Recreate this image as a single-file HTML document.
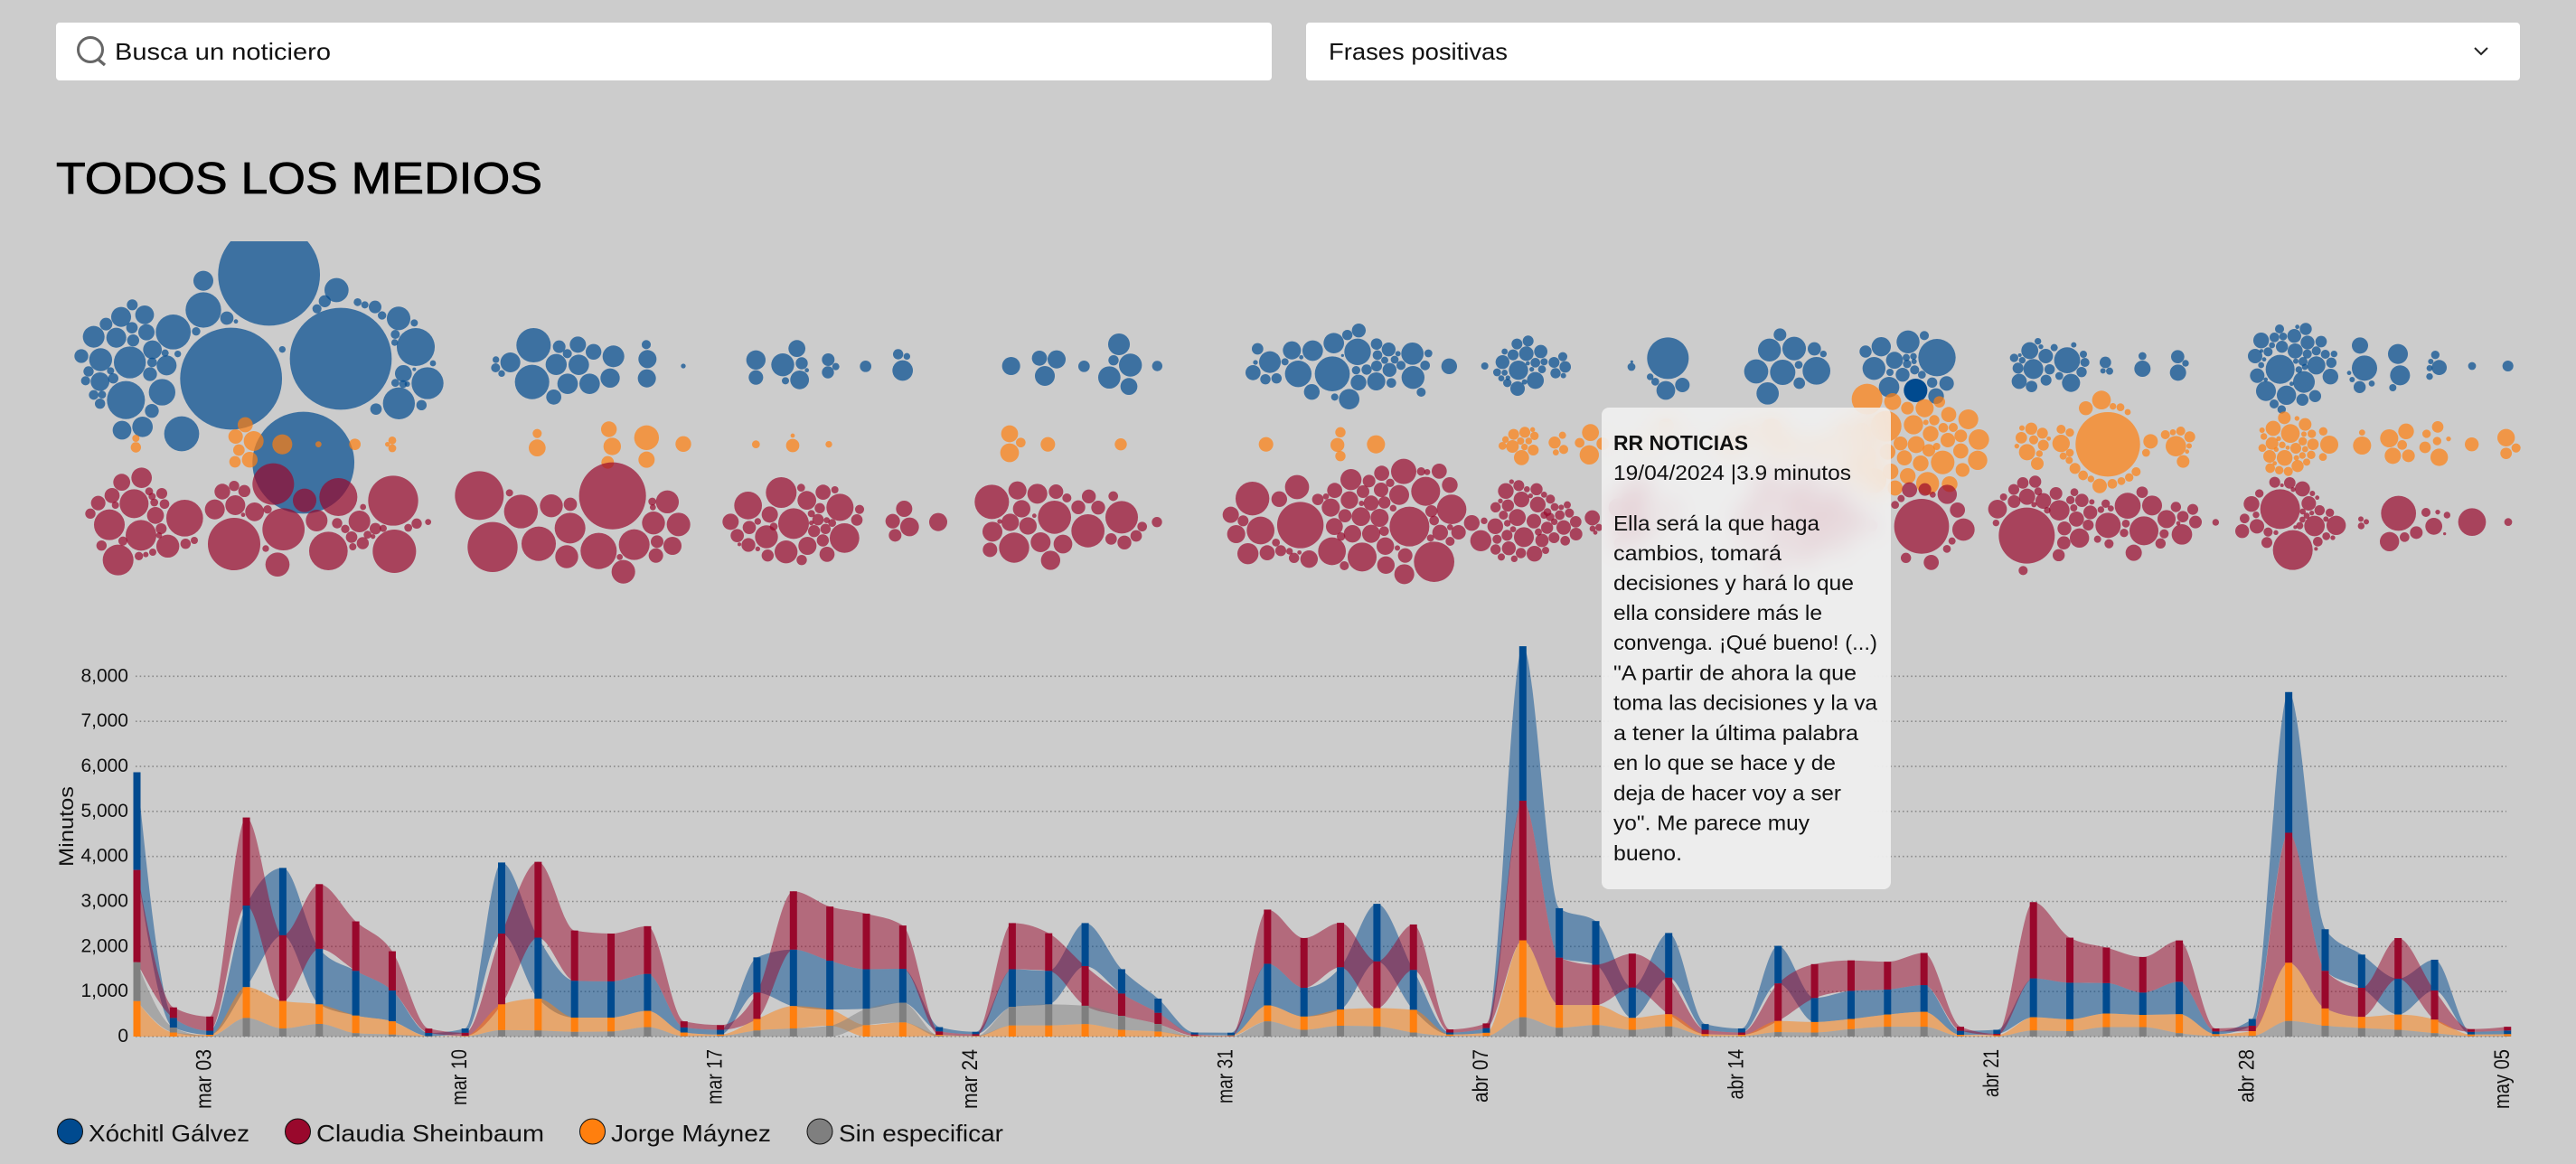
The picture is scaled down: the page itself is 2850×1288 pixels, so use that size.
<!DOCTYPE html>
<html lang="es">
<head>
<meta charset="utf-8">
<title>Todos los medios</title>
<style>
html,body{margin:0;padding:0;width:2850px;height:1288px;overflow:hidden;background:#cccccc;font-family:"Liberation Sans","DejaVu Sans",sans-serif;color:#111}
svg{display:block}
#page-art{position:absolute;left:0;top:0}
#tooltip{position:absolute;left:1772px;top:451px;width:320px;height:533px;border-radius:8px;background:rgba(245,245,245,.8);-webkit-backdrop-filter:blur(13px);backdrop-filter:blur(13px);overflow:hidden}
text{font-family:"Liberation Sans","DejaVu Sans",sans-serif;fill:#111}
</style>
</head>
<body>
<svg id="page-art" width="2850" height="1288" viewBox="0 0 2850 1288" xmlns="http://www.w3.org/2000/svg">
  <defs><clipPath id="swarm-clip"><rect x="0" y="267" width="2850" height="440"/></clipPath></defs>

  <g>
    <rect x="62" y="25" width="1345" height="64" rx="4" fill="#fff"/>
    <g fill="none" stroke="#666" stroke-width="3">
      <circle cx="100" cy="55" r="13.5"/>
      <line x1="109" y1="66" x2="116" y2="72" stroke-width="3.4"/>
    </g>
    <text x="127" y="66" font-size="26" textLength="239" lengthAdjust="spacingAndGlyphs">Busca un noticiero</text>
  </g>

  <g>
    <rect x="1445" y="25" width="1343" height="64" rx="4" fill="#fff"/>
    <text x="1470" y="66" font-size="26" textLength="198" lengthAdjust="spacingAndGlyphs">Frases positivas</text>
    <path d="M2738 53l7 7 7-7" fill="none" stroke="#222" stroke-width="2"/>
  </g>

  <text x="62" y="214" font-size="49" textLength="538" lengthAdjust="spacingAndGlyphs" style="fill:#000;stroke:#000;stroke-width:.8">TODOS LOS MEDIOS</text>

  <g id="swarm-layer" clip-path="url(#swarm-clip)"></g>
  <g id="grid-layer"></g>
  <g id="y-axis"></g>
  <g id="area-layer"></g>
  <g id="bar-layer"></g>
  <g id="x-axis"></g>
  <text transform="translate(81 959) rotate(-90)" font-size="22" textLength="89" lengthAdjust="spacingAndGlyphs">Minutos</text>

  <g>
    <g>
      <circle cx="77.5" cy="1252" r="14" fill="#004a8f" stroke="#111" stroke-width="1"/>
      <text x="98" y="1263" font-size="26" textLength="178" lengthAdjust="spacingAndGlyphs">Xóchitl Gálvez</text>
    </g>
    <g>
      <circle cx="329.5" cy="1252" r="14" fill="#99082c" stroke="#111" stroke-width="1"/>
      <text x="350" y="1263" font-size="26" textLength="252" lengthAdjust="spacingAndGlyphs">Claudia Sheinbaum</text>
    </g>
    <g>
      <circle cx="655.5" cy="1252" r="14" fill="#ff7f0e" stroke="#111" stroke-width="1"/>
      <text x="676" y="1263" font-size="26" textLength="177" lengthAdjust="spacingAndGlyphs">Jorge Máynez</text>
    </g>
    <g>
      <circle cx="907" cy="1252" r="14" fill="#7f7f7f" stroke="#111" stroke-width="1"/>
      <text x="928" y="1263" font-size="26" textLength="182" lengthAdjust="spacingAndGlyphs">Sin especificar</text>
    </g>
  </g>
</svg>

<div id="tooltip">
  <svg width="320" height="533" viewBox="1772 451 320 533" xmlns="http://www.w3.org/2000/svg">
    <text x="1785" y="498" font-size="23" font-weight="bold" textLength="149" lengthAdjust="spacingAndGlyphs">RR NOTICIAS</text>
    <text x="1785" y="531" font-size="23" textLength="263" lengthAdjust="spacingAndGlyphs">19/04/2024 |3.9 minutos</text>
    <g font-size="23">
      <text x="1785" y="587" textLength="228" lengthAdjust="spacingAndGlyphs">Ella será la que haga</text>
      <text x="1785" y="620" textLength="186" lengthAdjust="spacingAndGlyphs">cambios, tomará</text>
      <text x="1785" y="653" textLength="266" lengthAdjust="spacingAndGlyphs">decisiones y hará lo que</text>
      <text x="1785" y="686" textLength="231" lengthAdjust="spacingAndGlyphs">ella considere más le</text>
      <text x="1785" y="719" textLength="292" lengthAdjust="spacingAndGlyphs">convenga. ¡Qué bueno! (...)</text>
      <text x="1785" y="752.5" textLength="269" lengthAdjust="spacingAndGlyphs">"A partir de ahora la que</text>
      <text x="1785" y="785.5" textLength="292" lengthAdjust="spacingAndGlyphs">toma las decisiones y la va</text>
      <text x="1785" y="819" textLength="271" lengthAdjust="spacingAndGlyphs">a tener la última palabra</text>
      <text x="1785" y="852" textLength="246" lengthAdjust="spacingAndGlyphs">en lo que se hace y de</text>
      <text x="1785" y="885.5" textLength="252" lengthAdjust="spacingAndGlyphs">deja de hacer voy a ser</text>
      <text x="1785" y="918.5" textLength="217" lengthAdjust="spacingAndGlyphs">yo". Me parece muy</text>
      <text x="1785" y="952" textLength="76" lengthAdjust="spacingAndGlyphs">bueno.</text>
    </g>
  </svg>
</div>

<script>
/* ---------- daily minutes per candidate, 1 mar to 5 may ---------- */
const xgMinutes=[2170,215,90,1812,1495,1235,994,685,70,97,1578,1355,819,805,821,113,105,782,1255,1084,879,752,97,52,834,745,955,541,316,45,60,925,639,939,1278,887,45,105,3431,1098,970,676,992,128,90,835,534,624,556,594,90,90,864,812,677,496,722,60,151,3124,924,737,797,684,60,82];
const csMinutes=[2050,233,314,1955,1460,1435,1098,872,97,68,1572,1683,1115,1061,1059,135,105,586,1294,1203,1234,962,75,38,1024,835,881,496,248,30,10,1203,1105,985,1037,1008,68,105,3100,1052,895,752,812,97,52,834,752,677,617,714,90,30,1692,1000,789,790,917,67,120,2887,835,647,902,647,60,83];
const jmMinutes=[790,90,30,684,610,435,391,293,5,10,572,707,316,308,361,80,30,256,497,360,255,316,25,10,248,248,278,150,113,10,10,354,294,362,407,504,30,70,1708,505,445,264,271,40,30,248,233,226,271,331,30,25,294,264,301,271,421,40,105,1293,384,248,339,301,35,43];
const seMinutes=[860,110,10,414,180,280,75,45,5,5,143,135,105,113,210,10,15,135,180,240,362,436,13,5,414,467,406,309,165,5,5,338,150,240,225,90,15,13,429,195,255,150,225,13,8,98,90,165,218,218,8,5,135,120,210,210,75,13,15,346,240,188,150,75,10,10];
const dayTickIndex=[2,9,16,23,30,37,44,51,58,65];
const dayTickLabels=["mar 03","mar 10","mar 17","mar 24","mar 31","abr 07","abr 14","abr 21","abr 28","may 05"];
const dayTickLengths=[66,62,61,66,60,59,55.5,53,59,66];
const yTickValues=[0,1000,2000,3000,4000,5000,6000,7000,8000];

/* ---------- individual broadcast fragments: [time slot, lane offset, minutes] ---------- */
const xgPackA=[[713,-303,75.8],[587,42,75.8],[951,-24,75.8],[827,321,75.8],[495,-283,2.75],[495,-186,9.03],[573,-159,1.18],[603,-148,.1],[471,-115,.45],[395,-113,8.72],[757,-55,.27],[937,-252,4.08],[898,-215,.97],[872,-190,.53],[1007,-212,.39],[1031,-203,.32],[1065,-196,1.07],[1088,-168,.45],[1143,-158,3.88],[1195,-143,.32],[1132,-105,.53],[1130,-78,.27],[1200,-63,10.32],[1257,-9,.22],[1159,25,1.96],[1195,11,.07],[1239,57,7.26],[1132,56,.39],[1158,60,.39],[1172,60,.17],[1144,124,7.26],[1219,130,.69],[1068,143,.87],[259,-203,.78],[222,-163,2.75],[300,-170,2.42],[172,-139,1.07],[131,-97,3.29],[206,-94,2.75],[258,-127,.87],[306,-112,1.81],[262,-85,.97],[326,-54,2.42],[251,-12,7.26],[154,-21,3.68],[90,-33,1.3],[368,-43,.32],[410,-40,.27],[325,-12,.6],[373,-2,2.75],[114,18,.69],[187,16,.32],[196,41,.69],[318,27,1.3],[152,52,2.42],[104,49,.53],[358,87,4.96],[238,113,10.32],[131,96,.6],[159,95,.39],[152,125,.69],[324,149,1.3],[293,202,2.92],[225,213,2.42],[423,225,8.72]];
const jmPackA=[[271,-20,.32],[271,10,.69],[634,-65,1.55],[602,-26,1.42],[662,-11,2.75],[613,19,.87],[600,58,.87],[649,51,1.68],[757,0,2.75],[877,0,.22],[998,0,.87],[1122,-13,.39],[1122,13,.39],[1106,0,.13]];
const csPackA=[[290,-147,2.92],[224,-132,1.96],[192,-88,1.55],[315,-102,.39],[357,-95,.78],[325,-85,.32],[146,-63,1.42],[265,-61,5.93],[203,-56,.32],[332,-65,.39],[366,-60,.6],[120,-28,.69],[183,9,6.71],[336,-22,1.96],[433,-13,9.66],[288,44,6.71],[355,22,.78],[348,44,.22],[228,63,.53],[157,78,.69],[377,80,3.68],[212,126,6.71],[281,113,.45],[304,108,.17],[327,100,.32],[436,72,.69],[465,61,.32],[558,-101,1.68],[597,-120,.69],[631,-103,.97],[601,-56,2.75],[533,-42,2.75],[665,-34,2.42],[627,-24,.1],[708,-42,.45],[727,-126,12.41],[831,-72,3.88],[943,-83,10.32],[1125,-71,18.05],[761,24,12.78],[597,73,19.85],[702,88,.27],[741,141,4.08],[871,-5,3.29],[1025,-50,.22],[939,4,.69],[1013,-2,3.29],[966,23,.45],[987,50,.87],[1066,22,.87],[1092,21,.32],[1040,42,.39],[1058,48,.13],[1024,70,.97],[991,82,.32],[1175,19,.39],[1203,5,.69],[1241,0,.22],[910,96,10.65],[1129,97,13.53]];

const xgPackB=[[241,-69,8.42],[236,53,8.42],[164,-12,2.75],[116,-21,.27],[115,6,.53],[135,25,.27],[326,-64,1.07],[388,-71,1.81],[353,-41,.53],[316,-5,3.1],[391,-4,2.92],[440,-47,1.68],[506,-32,3.29],[495,40,2.58],[354,59,2.92],[427,59,2.92],[308,103,1.55],[615,-71,.53],[619,-23,2.26],[617,41,2.26],[738,0,.13],[979,-20,2.58],[979,38,1.42],[1115,-58,1.96],[1068,-4,3.68],[1131,-9,.97],[1148,14,.1],[1124,46,2.42],[1077,49,.32],[1219,-21,1.07],[1244,2,.32],[1218,21,.97],[1343,1,.87]];
const jmPackB=[[253,-36,.53],[253,12,1.96],[491,-50,1.68],[502,7,2.1],[487,60,1.07],[616,-22,4.3],[616,51,1.81],[738,-1,1.68],[979,0,.39],[1101,-29,.1],[1101,4,1.18],[1221,0,.27]];
const csPackB=[[61,-88,17.18],[161,-97,.32],[199,-35,8.12],[105,83,18.05],[258,72,8.42],[300,-54,3.68],[363,-59,1.18],[362,20,6.71],[503,-87,32.5],[351,115,3.68],[457,96,9.35],[575,75,6.71],[539,165,3.88],[527,116,.22],[635,-68,.39],[637,-49,.22],[685,-67,3.68],[639,3,3.68],[722,8,3.88],[651,65,1.07],[702,79,2.26],[647,111,1.42],[953,-55,5.44],[1063,-98,6.71],[1129,-114,.39],[1148,-72,2.42],[1202,-99,1.55],[1241,-107,.32],[1191,-46,.69],[1258,-49,5.2],[1323,-42,.53],[1314,-7,.87],[1273,53,6.19],[1025,-25,1.81],[1163,-28,.32],[1185,-8,.87],[1214,-6,.22],[1232,3,.39],[1163,3,.13],[895,-1,1.81],[985,-2,.27],[1104,5,6.71],[957,18,1.18],[1038,15,.39],[1172,30,.97],[1210,23,.69],[917,45,1.18],[1014,49,3.68],[1201,61,.97],[954,76,1.3],[924,74,.07],[985,89,.13],[1150,79,2.26],[1018,111,.97],[1079,99,3.68],[1131,126,.69],[1215,107,1.55]];

const xgPackC=[[101,-39,.69],[130,-32,.27],[116,15,2.92],[476,0,2.26],[570,-26,1.55],[627,-22,2.26],[588,33,2.75],[718,1,.87],[834,-72,3.29],[816,-19,.69],[872,-3,3.68],[802,38,3.48],[867,68,1.96],[961,0,.69]];
const jmPackC=[[471,-35,1.96],[508,-6,.6],[471,28,2.42],[598,0,1.42],[840,0,.97]];
const csPackC=[[121,-44,1.81],[83,-3,1.42],[139,16,2.42],[91,44,1.07],[234,0,2.26],[412,-67,8.42],[497,-105,2.26],[563,-94,2.75],[625,-101,1.42],[661,-80,.53],[511,-44,2.1],[553,-21,.1],[438,-2,.13],[473,1,2.1],[532,13,2.1],[620,-16,7.83],[734,-85,1.3],[699,-49,1.3],[765,-48,1.3],[815,-86,.6],[843,-16,7.54],[731,29,7.83],[414,32,2.75],[486,85,6.45],[574,67,2.75],[648,73,2.42],[406,92,1.42],[607,127,2.58],[808,56,.87],[852,68,1.3],[891,46,.87],[911,15,.6],[960,0,.69]];

const xgPackD=[[184,-57,.87],[225,-13,3.29],[177,-12,.13],[169,22,1.55],[210,44,.69],[247,41,.69],[275,-14,.32],[298,-52,2.26],[329,-29,.1],[319,26,4.96],[367,-51,2.92],[437,-76,2.92],[432,26,8.72],[482,-103,.69],[520,-118,1.3],[516,-47,4.96],[466,-35,.04],[579,-73,.87],[582,-36,.6],[619,-55,1.3],[650,-41,.17],[606,-19,.32],[639,-21,.39],[579,0,.78],[511,14,.45],[546,12,.69],[622,13,1.3],[660,-2,.53],[698,-41,3.48],[751,-42,.39],[740,-2,.6],[700,38,3.68],[519,55,1.68],[578,51,2.26],[628,56,.6],[364,86,1.68],[440,103,.32],[488,110,2.92],[727,87,.53],[820,1,1.68],[938,0,.32],[1045,-73,.78],[1082,-83,.78],[1004,-48,.22],[1032,-37,.78],[1076,-41,1.42],[1124,-48,1.18],[997,-13,1.3],[1106,-11,.6],[1081,-9,.1],[1135,-14,.32],[1050,14,2.58],[1168,-12,.78],[1197,-31,.53],[1205,3,.87],[1094,11,.13],[1128,11,.39],[979,21,.39],[1004,22,.22],[993,41,.22],[1015,39,.13],[1013,56,.45],[1070,53,.17],[1106,48,1.96],[1047,75,1.42],[1173,24,.69],[1199,32,.17]];
const jmPackD=[[212,0,1.42],[459,-40,.69],[449,2,1.3],[459,39,.69],[577,0,2.26],[1034,-33,.78],[1071,-40,.78],[1097,-49,.13],[1103,-28,.45],[1007,-16,.27],[1057,-11,.32],[1084,-11,.27],[1030,7,1.07],[997,5,.39],[1070,9,.27],[1099,19,.78],[1060,44,1.55],[1170,-6,.97],[1196,-30,.32],[1200,17,.53],[1174,27,.22],[1253,-5,.6],[1289,-39,1.96],[1285,35,2.58],[1330,-2,1.07]];
const csPackD=[[167,-78,8.12],[315,-116,4.08],[256,-76,1.68],[95,-24,1.81],[136,-4,.78],[194,28,5.44],[326,10,15.5],[113,40,2.26],[152,105,3.1],[216,102,1.55],[245,68,.39],[261,95,.78],[290,97,.27],[305,119,.69],[323,101,.1],[355,123,2.1],[431,97,5.44],[472,145,.53],[384,-75,.87],[411,-85,.22],[440,-105,1.55],[494,-141,3.1],[427,-48,2.26],[489,-73,2.1],[554,-136,1.07],[596,-162,1.55],[669,-168,4.51],[727,-168,.45],[747,-166,.22],[787,-169,1.55],[624,-130,.45],[534,-101,1.07],[594,-107,1.42],[654,-90,2.75],[742,-102,5.93],[822,-123,1.68],[474,-21,1.18],[527,-18,2.42],[561,-63,1.55],[605,-65,.97],[529,-62,.17],[589,-14,2.26],[634,-46,.27],[761,-36,.97],[828,-42,6.19],[688,15,11.34],[770,-5,.6],[439,15,1.96],[499,39,2.1],[561,39,2.26],[604,30,.6],[461,48,.45],[608,80,2.1],[531,116,5.93],[648,86,.17],[674,111,1.42],[610,143,2.1],[671,173,2.75],[770,132,11.69],[790,35,1.68],[758,53,.32],[823,17,.22],[851,34,1.42],[823,64,.53],[895,3,1.68],[936,-4,.27],[925,62,3.1],[973,14,1.68],[1008,-103,1.68],[1051,-121,.78],[1027,-134,.13],[1078,-109,.22],[1110,-109,.97],[1135,-91,.22],[1156,-76,.53],[990,-70,.13],[1060,-75,1.68],[1015,-55,.97],[974,-49,.69],[1114,-58,1.68],[1090,-87,.13],[1170,-50,.39],[1192,-49,.17],[1212,-57,.32],[1146,-33,.39],[1187,-23,.6],[1219,-30,.53],[1000,-23,.53],[1046,-15,1.96],[1101,-3,1.42],[1135,-23,.32],[1155,-17,.45],[1169,-1,.27],[1240,-1,.87],[1145,19,.97],[1200,18,1.42],[1068,50,2.75],[1032,24,.22],[1013,4,.27],[979,57,.53],[1012,44,.78],[1116,33,.32],[1128,61,1.18],[1168,52,.78],[1241,40,1.07],[1205,62,.6],[974,91,.69],[1018,87,1.3],[1058,103,.69],[1103,105,1.68],[1140,94,.32],[993,116,.32],[1036,122,.27],[1295,-14,1.55],[1296,22,.22],[1305,35,.1],[1317,18,.32]];

const xgPackE=[[75,3,.39],[76,-14,.04],[196,-26,12.41],[137,36,.27],[154,52,.39],[189,81,2.42],[244,63,1.42],[568,-104,1.07],[533,-53,3.68],[615,-58,3.88],[682,-57,1.18],[712,-40,.27],[489,18,4.08],[577,21,4.51],[630,-4,.39],[689,16,5.44],[632,57,.87],[527,91,3.48],[852,-48,.97],[904,-64,2.58],[993,-80,3.68],[1047,-101,.53],[1089,-28,9.99],[880,8,3.68],[948,-19,1.96],[987,-28,.32],[1011,-32,.27],[990,-7,.45],[1013,-15,.17],[1015,13,.53],[933,21,.32],[975,29,1.3],[1039,29,.39],[1073,55,.69],[1121,58,1.42],[930,70,2.92],[1086,100,1.68]];
const jmPackE=[[857,-150,6.71],[942,-142,1.96],[991,-120,1.07],[1048,-120,2.26],[1097,-141,.87],[1128,-99,1.55],[1193,-83,2.75],[920,-60,6.71],[1011,-65,2.58],[1052,-73,.17],[1080,-80,.69],[1110,-55,.6],[1143,-56,.53],[1068,-35,1.68],[1168,-28,1.07],[1125,-14,1.42],[1228,-16,2.92],[968,-3,1.3],[1020,1,1.96],[1062,20,1.07],[1088,7,.32],[1168,22,1.55],[981,45,1.55],[1035,63,1.68],[1108,60,3.88],[1224,53,2.58],[1174,85,1.3],[935,90,1.68],[992,105,1.68],[1058,130,3.68],[1131,132,1.68],[950,145,1.55],[925,25,1.68],[190,-60,1.68],[130,0,1.07],[260,-20,.6],[400,0,2.42],[540,-50,3.29],[600,10,2.42],[680,10,1.68],[840,-40,2.42],[850,40,3.29],[880,120,4.3],[530,30,1.07],[450,-40,1.68],[730,20,1.68],[780,-40,2.1],[800,80,2.42]];
const csPackE=[[998,-107,1.55],[1049,-108,1.07],[1075,-91,.22],[1123,-92,2.58],[970,-78,.32],[950,-57,.39],[1157,-40,1.55],[1038,14,21.75],[1177,25,3.48],[1139,63,.32],[1122,89,.39],[986,119,.69],[1070,134,1.55],[85,-58,5.44],[60,22,3.29],[200,-38,1.68],[530,-118,4.3],[620,-68,5.44],[700,-18,6.71],[800,-8,4.3],[560,72,2.42],[640,102,2.42],[450,-18,1.68],[870,12,1.07],[540,152,1.68],[500,-38,3.29],[590,12,3.29],[680,62,3.29],[750,-78,3.29],[660,-128,2.42],[460,52,1.68],[760,62,2.42],[30,-48,2.42],[120,22,2.1],[40,72,1.3],[100,-118,2.42]];
const xgHighlighted=[1018,81,3.9];

const xgPackF=[[-5,-27,.45],[8,7,.78],[12,51,1.55],[22,-19,.27],[14,-36,.07],[74,-82,.27],[84,-64,.13],[47,-51,1.96],[128,-61,.32],[100,-33,1.42],[59,10,2.75],[113,11,.69],[171,-19,4.74],[193,-70,.17],[225,-39,.32],[230,-12,.53],[219,20,.69],[101,47,.78],[53,68,.87],[145,33,.39],[184,56,2.26],[298,-12,.87],[290,16,.17],[312,17,.32],[421,-33,.39],[421,9,1.81],[538,-31,1.18],[564,-9,.27],[539,22,1.81],[876,-123,.53],[963,-123,.97],[935,-130,.1],[815,-85,1.68],[859,-95,.6],[888,-98,.39],[925,-100,1.3],[1014,-81,.87],[969,-78,1.3],[851,-69,.22],[884,-64,.97],[928,-50,1.55],[998,-50,.53],[795,-33,1.42],[838,-47,.53],[968,-40,.53],[1028,-39,.53],[1057,-40,.27],[816,-50,.07],[878,11,5.93],[954,-15,.53],[998,-2,2.26],[1048,-11,.69],[1045,35,1.68],[930,-16,.17],[960,3,.22],[940,12,.27],[802,32,1.42],[957,53,3.29],[831,83,2.75],[899,97,2.58],[994,100,.97],[952,112,.97],[858,126,.53],[883,144,.45],[916,59,.1],[825,-22,.1],[815,-3,.22],[830,45,.1],[1143,-68,1.81],[1158,7,4.51],[1107,23,.1],[1117,45,.17],[1142,70,.97],[1182,58,.22],[1269,-40,2.75],[1276,31,2.75],[1252,72,.32],[1393,-37,.45],[1406,5,1.55],[1374,7,.22],[1374,35,.27],[1378,-15,.17],[1515,0,.39],[1634,0,.78]];
const jmPackF=[[21,-54,.17],[52,-52,.97],[89,-37,.78],[19,-22,.87],[60,-15,.53],[110,-19,.1],[92,3,.78],[4,6,.13],[38,26,1.81],[79,31,.27],[72,64,1.07],[151,-50,.53],[180,-39,.45],[151,-3,2.1],[158,39,.32],[180,28,.39],[178,53,.32],[306,0,30.2],[285,-147,2.42],[233,-120,1.3],[323,-126,.27],[348,-123,.39],[372,-107,.22],[448,-10,1.42],[433,28,.39],[197,80,.78],[224,103,.6],[250,115,.27],[279,138,1.42],[321,131,.6],[351,122,.39],[377,110,.45],[400,91,.53],[497,-32,.53],[522,-40,.22],[548,-44,.53],[578,-25,.78],[532,6,2.92],[576,5,.17],[569,24,.1],[556,57,1.07],[892,-88,1.07],[934,-86,.13],[961,-66,1.07],[855,-53,1.55],[818,-47,.17],[824,-26,.27],[912,-36,2.42],[957,-34,.17],[983,-35,.45],[873,-19,.13],[851,-3,1.07],[953,-10,.45],[987,0,.87],[819,12,.39],[885,2,.27],[930,13,.78],[903,11,.1],[961,16,.22],[1021,-43,.45],[1041,1,2.26],[1020,42,.39],[843,40,1.07],[865,17,.13],[893,45,1.68],[932,45,.17],[952,37,.27],[981,35,.45],[966,59,.32],[936,72,.97],[845,79,.6],[875,86,.45],[905,90,.53],[860,63,.1],[1150,-39,.22],[1150,4,2.26],[1240,-20,2.26],[1296,-43,1.68],[1283,2,.6],[1252,38,1.81],[1304,38,1.07],[1401,-58,.87],[1364,-35,.45],[1437,-18,.13],[1399,-11,.45],[1359,10,.87],[1406,43,2.1],[1514,0,1.3],[1628,-22,2.1],[1628,30,.87],[1661,12,.53]];
const csPackF=[[24,-130,.87],[65,-134,.97],[-6,-108,.78],[38,-84,1.81],[75,-102,.39],[-5,-68,1.07],[92,-70,1.68],[134,-95,1.07],[61,-58,.17],[145,-39,2.92],[105,-39,.27],[182,-73,.45],[195,-99,.39],[220,-72,1.18],[193,-47,.32],[253,-67,.17],[202,-10,1.55],[248,-32,1.3],[283,-41,.27],[299,-61,.45],[316,-45,.22],[37,45,22.7],[162,21,1.3],[241,10,.78],[212,53,2.58],[160,69,1.18],[143,110,.97],[25,161,.53],[272,57,.32],[307,11,4.51],[360,36,.45],[366,5,.39],[372,-54,4.74],[453,-55,2.75],[420,-99,.87],[426,29,5.93],[493,39,.53],[501,-10,2.26],[532,-50,.69],[555,-18,.87],[588,-42,.78],[597,0,1.07],[540,4,.1],[552,41,2.92],[481,71,.69],[392,102,1.81],[310,72,.53],[664,1,.27],[-60,-43,2.42],[-40,-83,.32],[-65,3,.27],[860,-132,.78],[910,-130,.87],[884,-122,.07],[952,-110,1.55],[921,-108,.13],[809,-95,.45],[783,-60,1.68],[878,-43,11.34],[985,-95,.17],[1001,-81,.1],[973,-62,1.42],[1009,-39,.69],[1043,-31,.45],[953,-35,.22],[983,-30,.13],[966,-21,.22],[1030,-10,.17],[952,-8,.22],[798,-24,.27],[760,-12,.6],[801,14,1.42],[992,13,2.92],[1064,11,2.58],[943,12,.32],[928,17,.07],[752,30,1.3],[838,33,.53],[864,35,.13],[1031,47,.39],[1053,52,.13],[834,68,.78],[920,93,11.34],[1003,65,.6],[997,89,.07],[1146,-10,.17],[1164,-1,.17],[1147,13,.27],[1271,-29,8.72],[1241,65,2.58],[1291,50,.6],[1330,35,1.07],[1362,-32,.53],[1401,-33,.13],[1432,-23,.27],[1388,14,1.96],[1424,39,.04],[1515,0,5.44],[1635,0,.39]];

/* each pack starts at its own slot counted from 1 mar */
const packStartSlot=[-274.5,1075.5,2425.5,3535.5,4885.5,6235.5];

/* ---------- scales ---------- */
const SVGNS='http://www.w3.org/2000/svg';
const dayX=i=>151.5+i*40.35;
const minutesY=v=>1147-v*0.04983;
const slotX=s=>151.5+s*40.35/121.05;
const laneCenter={xg:405,jm:491.67,cs:577.67};
const laneY=(series,lane)=>laneCenter[series]+lane/3;
const minutesR=m=>6.433*Math.sqrt(m)+0.35;
const seriesColor={xg:'#004a8f',cs:'#99082c',jm:'#ff7f0e',se:'#7f7f7f'};
const seriesValues={xg:xgMinutes,cs:csMinutes,jm:jmMinutes,se:seMinutes};
const seriesOrder=['xg','cs','jm','se'];

function svgEl(tag,parent){
  const el=document.createElementNS(SVGNS,tag);
  parent.appendChild(el);
  return el;
}

/* ---------- gridlines and y axis ---------- */
const gridLayer=document.getElementById('grid-layer');
const yAxis=document.getElementById('y-axis');
yTickValues.forEach(v=>{
  const line=svgEl('line',gridLayer);
  
  
  line.setAttribute('x1',150);
  line.setAttribute('x2',2773);
  line.setAttribute('y1',minutesY(v));
  line.setAttribute('y2',minutesY(v));
  line.setAttribute('stroke','#8a8a8a');
  line.setAttribute('stroke-width',1.6);
  line.setAttribute('stroke-dasharray','1.6 3');
  const label=svgEl('text',yAxis);
  
  
  label.setAttribute('x',142);
  label.setAttribute('y',minutesY(v)+6);
  label.setAttribute('text-anchor','end');
  label.setAttribute('font-size',21);
  label.textContent=v.toLocaleString('en-US');
});

/* ---------- x axis ---------- */
const xAxis=document.getElementById('x-axis');
dayTickIndex.forEach((d,k)=>{
  const label=svgEl('text',xAxis);
  
  
  label.setAttribute('transform','translate('+(dayX(d)+1.5)+' 1161) rotate(-90)');
  label.setAttribute('text-anchor','end');
  label.setAttribute('font-size',24);
  label.setAttribute('textLength',dayTickLengths[k]);
  label.setAttribute('lengthAdjust','spacingAndGlyphs');
  label.textContent=dayTickLabels[k];
});

/* ---------- stack sorted per day, smallest at the bottom ---------- */
const dayCount=xgMinutes.length;
const stackLow={xg:[],cs:[],jm:[],se:[]};
const stackHigh={xg:[],cs:[],jm:[],se:[]};
for(let d=0;d<dayCount;d++){
  const ranked=seriesOrder.slice().sort((a,b)=>seriesValues[a][d]-seriesValues[b][d]);
  let running=0;
  ranked.forEach(s=>{
    stackLow[s][d]=running;
    running+=seriesValues[s][d];
    stackHigh[s][d]=running;
  });
}

function monotoneTangents(ys){
  const h=40.35,n=ys.length,slopes=[],t=[];
  for(let i=0;i<n-1;i++)slopes.push((ys[i+1]-ys[i])/h);
  for(let i=1;i<n-1;i++){
    const a=slopes[i-1],b=slopes[i];
    const p=(a+b)/2;
    t[i]=(Math.sign(a)+Math.sign(b))*Math.min(Math.abs(a),Math.abs(b),0.5*Math.abs(p));
  }
  t[0]=(3*slopes[0]-t[1])/2;
  t[n-1]=(3*slopes[n-2]-t[n-2])/2;
  return t;
}
function curveForward(vals){
  const ys=vals.map(minutesY),t=monotoneTangents(ys),h=40.35;
  let p='';
  for(let i=0;i<ys.length-1;i++){
    p+='C'+(dayX(i)+h/3).toFixed(2)+' '+(ys[i]+t[i]*h/3).toFixed(2)+' '+(dayX(i+1)-h/3).toFixed(2)+' '+(ys[i+1]-t[i+1]*h/3).toFixed(2)+' '+dayX(i+1).toFixed(2)+' '+ys[i+1].toFixed(2);
  }
  return {start:'M'+dayX(0).toFixed(2)+' '+ys[0].toFixed(2),segments:p};
}
function curveBackward(vals){
  const ys=vals.map(minutesY),t=monotoneTangents(ys),h=40.35,n=ys.length;
  let p='L'+dayX(n-1).toFixed(2)+' '+ys[n-1].toFixed(2);
  for(let i=n-1;i>0;i--){
    p+='C'+(dayX(i)-h/3).toFixed(2)+' '+(ys[i]-t[i]*h/3).toFixed(2)+' '+(dayX(i-1)+h/3).toFixed(2)+' '+(ys[i-1]+t[i-1]*h/3).toFixed(2)+' '+dayX(i-1).toFixed(2)+' '+ys[i-1].toFixed(2);
  }
  return p+'Z';
}

/* ---------- ribbons and daily bars ---------- */
const areaLayer=document.getElementById('area-layer');
const barLayer=document.getElementById('bar-layer');
seriesOrder.forEach(s=>{
  const top=curveForward(stackHigh[s]);
  const area=svgEl('path',areaLayer);
  
  
  area.setAttribute('d',top.start+top.segments+curveBackward(stackLow[s]));
  area.setAttribute('fill',seriesColor[s]);
  area.setAttribute('fill-opacity',0.5);
  for(let d=0;d<dayCount;d++){
    const bar=svgEl('rect',barLayer);
    
    
    bar.setAttribute('x',dayX(d)-4);
    bar.setAttribute('width',8);
    bar.setAttribute('y',minutesY(stackHigh[s][d]));
    bar.setAttribute('height',Math.max(0,minutesY(stackLow[s][d])-minutesY(stackHigh[s][d])));
    bar.setAttribute('fill',seriesColor[s]);
  }
});

/* ---------- bubble swarm ---------- */
const swarmLayer=document.getElementById('swarm-layer');
function drawPack(series,items,startSlot){
  items.forEach(it=>{
    const c=svgEl('circle',swarmLayer);
    
    
    c.setAttribute('cx',slotX(it[0]+startSlot).toFixed(2));
    c.setAttribute('cy',laneY(series,it[1]).toFixed(2));
    c.setAttribute('r',minutesR(it[2]).toFixed(2));
    c.setAttribute('fill',seriesColor[series]);
    c.setAttribute('fill-opacity',0.7);
  });
}
drawPack('xg',xgPackA,packStartSlot[0]);
drawPack('xg',xgPackB,packStartSlot[1]);
drawPack('xg',xgPackC,packStartSlot[2]);
drawPack('xg',xgPackD,packStartSlot[3]);
drawPack('xg',xgPackE,packStartSlot[4]);
drawPack('xg',xgPackF,packStartSlot[5]);
const selectedBubble=svgEl('circle',swarmLayer);


selectedBubble.setAttribute('cx',slotX(xgHighlighted[0]+packStartSlot[4]).toFixed(2));
selectedBubble.setAttribute('cy',laneY('xg',xgHighlighted[1]).toFixed(2));
selectedBubble.setAttribute('r',minutesR(xgHighlighted[2]).toFixed(2));
selectedBubble.setAttribute('fill',seriesColor.xg);
drawPack('jm',jmPackA,packStartSlot[0]);
drawPack('jm',jmPackB,packStartSlot[1]);
drawPack('jm',jmPackC,packStartSlot[2]);
drawPack('jm',jmPackD,packStartSlot[3]);
drawPack('jm',jmPackE,packStartSlot[4]);
drawPack('jm',jmPackF,packStartSlot[5]);
drawPack('cs',csPackA,packStartSlot[0]);
drawPack('cs',csPackB,packStartSlot[1]);
drawPack('cs',csPackC,packStartSlot[2]);
drawPack('cs',csPackD,packStartSlot[3]);
drawPack('cs',csPackE,packStartSlot[4]);
drawPack('cs',csPackF,packStartSlot[5]);
</script>
</body>
</html>
